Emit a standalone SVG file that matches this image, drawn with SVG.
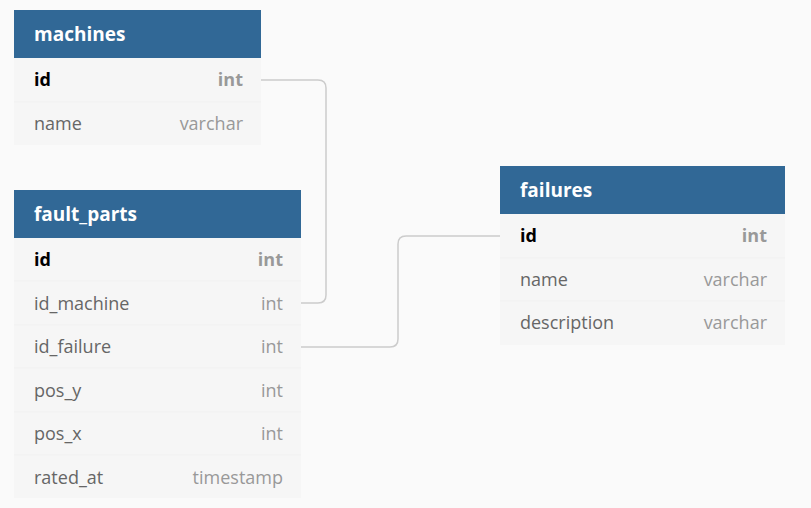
<svg xmlns="http://www.w3.org/2000/svg" width="811" height="508" viewBox="0 0 811 508">
<style>
.hdr{fill:#316896}
.row{fill:#f6f6f6}
.sep{stroke:#f1f1f1;stroke-width:1}
.title{font-family:"Open Sans","Liberation Sans",sans-serif;font-weight:700;font-size:19px;fill:#ffffff}
.col{font-family:"Open Sans","Liberation Sans",sans-serif;font-size:18px;fill:#666666}
.pk{font-family:"Open Sans","Liberation Sans",sans-serif;font-size:18px;font-weight:700;fill:#000000}
.typ{font-family:"Open Sans","Liberation Sans",sans-serif;font-size:18px;fill:#999999;text-anchor:end}
.pktyp{font-family:"Open Sans","Liberation Sans",sans-serif;font-size:18px;font-weight:700;fill:#999999;text-anchor:end}
.conn{fill:none;stroke:#cccccc;stroke-width:1.5}
</style>
<rect width="811" height="508" fill="#fafafa"/>
<g id="connectors">
<path class="conn" d="M261,80 H318 Q326,80 326,88 V295 Q326,303 318,303 H301"/>
<path class="conn" d="M301,347 H390 Q398,347 398,339 V244 Q398,236 406,236 H500"/>
</g>
<g id="machines">
<rect class="hdr" x="14" y="10" width="247" height="48"/>
<rect class="row" x="14" y="58" width="247" height="87"/>
<line class="sep" x1="14" y1="102" x2="261" y2="102"/>
<text class="title" x="34" y="41">machines</text>
<text class="pk" x="34" y="86">id</text>
<text class="pktyp" x="243" y="86">int</text>
<text class="col" x="34" y="130">name</text>
<text class="typ" x="243" y="130">varchar</text>
</g>
<g id="fault_parts">
<rect class="hdr" x="14" y="190" width="287" height="48"/>
<rect class="row" x="14" y="238" width="287" height="260"/>
<line class="sep" x1="14" y1="281" x2="301" y2="281"/>
<line class="sep" x1="14" y1="325" x2="301" y2="325"/>
<line class="sep" x1="14" y1="368" x2="301" y2="368"/>
<line class="sep" x1="14" y1="412" x2="301" y2="412"/>
<line class="sep" x1="14" y1="455" x2="301" y2="455"/>
<text class="title" x="34" y="221">fault_parts</text>
<text class="pk" x="34" y="266">id</text>
<text class="pktyp" x="283" y="266">int</text>
<text class="col" x="34" y="310">id_machine</text>
<text class="typ" x="283" y="310">int</text>
<text class="col" x="34" y="353">id_failure</text>
<text class="typ" x="283" y="353">int</text>
<text class="col" x="34" y="397">pos_y</text>
<text class="typ" x="283" y="397">int</text>
<text class="col" x="34" y="440">pos_x</text>
<text class="typ" x="283" y="440">int</text>
<text class="col" x="34" y="484">rated_at</text>
<text class="typ" x="283" y="484">timestamp</text>
</g>
<g id="failures">
<rect class="hdr" x="500" y="166" width="285" height="48"/>
<rect class="row" x="500" y="214" width="285" height="131"/>
<line class="sep" x1="500" y1="258" x2="785" y2="258"/>
<line class="sep" x1="500" y1="301" x2="785" y2="301"/>
<text class="title" x="520" y="197">failures</text>
<text class="pk" x="520" y="242">id</text>
<text class="pktyp" x="767" y="242">int</text>
<text class="col" x="520" y="286">name</text>
<text class="typ" x="767" y="286">varchar</text>
<text class="col" x="520" y="329">description</text>
<text class="typ" x="767" y="329">varchar</text>
</g>
</svg>
